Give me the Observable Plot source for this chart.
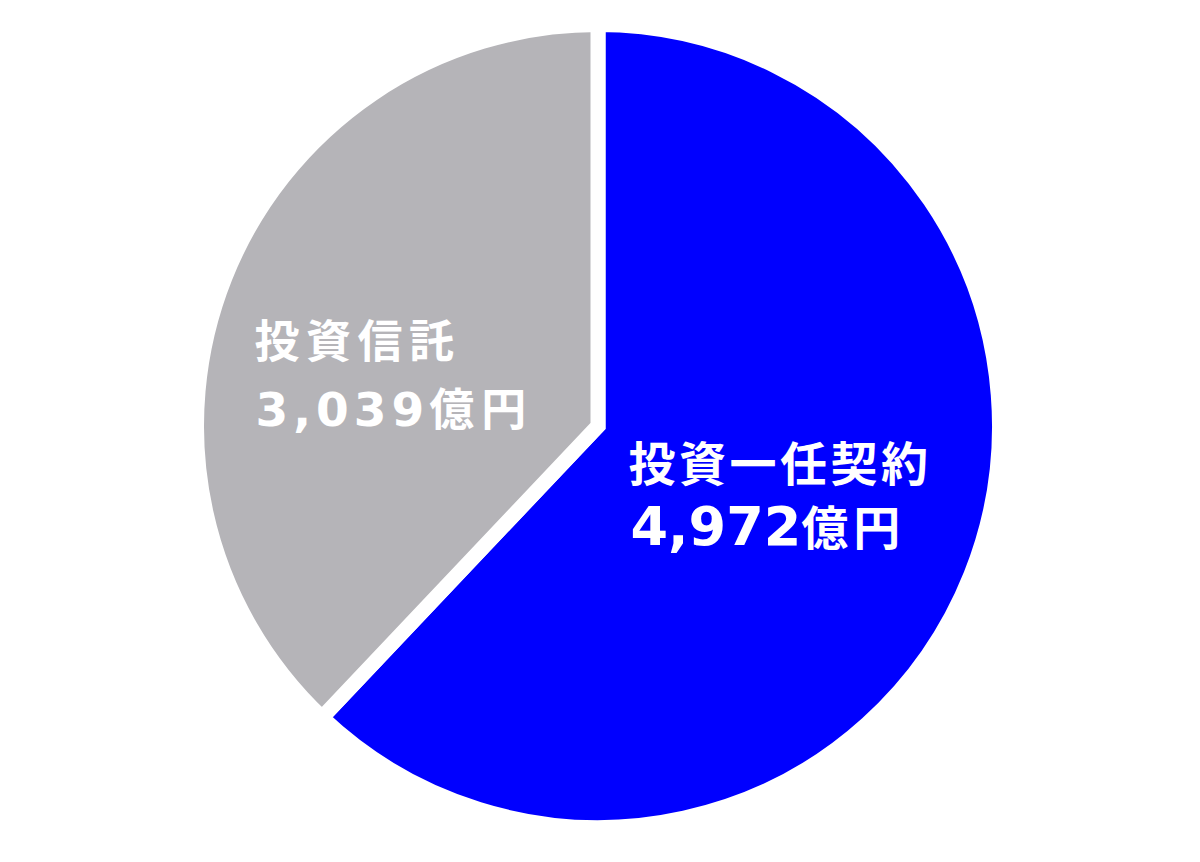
<!DOCTYPE html>
<html>
<head>
<meta charset="utf-8">
<script src="https://cdn.jsdelivr.net/npm/d3@7"></script>
<script src="https://cdn.jsdelivr.net/npm/@observablehq/plot@0.6"></script>
<style>
  html, body { margin: 0; padding: 0; background: #ffffff; }
  #chart svg { display: block; }
</style>
</head>
<body>
<div id="chart"></div>
<script>
// ---- data ----
const categories = ["投資一任契約", "投資信託"];
const values = [4972, 3039];
const valueLabels = ["4,972億円", "3,039億円"];
const colors = ["#0000ff", "#b5b4b8"];

const data = categories.map((c, i) => ({category: c, value: values[i], label: valueLabels[i], color: colors[i]}));
const arcs = d3.pie().sort(null).value(d => d.value)(data);
// label anchor at half radius along each slice's mid-angle (data units)
const slices = arcs.map(a => {
  const mid = (a.startAngle + a.endAngle) / 2;
  return {...a.data, x: 0.5 * Math.sin(mid), y: 0.5 * Math.cos(mid)};
});

const GAP = 15;

function pie(index, scales) {
  const cx = scales.x(0), cy = scales.y(0);
  const r = scales.x(1) - scales.x(0);
  const arc = d3.arc().innerRadius(0).outerRadius(r + GAP / 2);
  const g = d3.create("svg:g").attr("transform", `translate(${cx},${cy})`);
  g.selectAll("path")
    .data(arcs)
    .join("path")
    .attr("d", arc)
    .attr("fill", d => d.data.color)
    .attr("stroke", "#ffffff")
    .attr("stroke-width", GAP)
    .attr("stroke-linejoin", "miter")
    .attr("stroke-miterlimit", 10);
  return g.node();
}

// split "4,972億円" into number (Latin font) and unit (CJK font)
function splitValue(numSize, numSpacing) {
  return function(index, scales, values, dimensions, context, next) {
    const g = next(index, scales, values, dimensions, context);
    d3.select(g).selectAll("text").each(function() {
      const t = this.textContent;
      const m = t.match(/^([\d,]+)(.*)$/);
      if (!m) return;
      const sel = d3.select(this);
      sel.text(null);
      sel.append("tspan").attr("font-family", "'DejaVu Sans', Verdana, sans-serif")
        .attr("font-size", numSize).attr("letter-spacing", numSpacing).text(m[1]);
      sel.append("tspan").text(m[2]);
    });
    return g;
  };
}
function spacing(ls) {
  return (i, s, v, d, c, next) => { const g = next(i, s, v, d, c); d3.select(g).selectAll("text").attr("letter-spacing", ls); return g; };
}

const cjk = "'Noto Sans CJK JP', 'Noto Sans CJK SC', sans-serif";
const grayRow = slices.filter(d => d.category === "投資信託");
const blueRow = slices.filter(d => d.category === "投資一任契約");

const chart = Plot.plot({
  width: 1200,
  height: 862,
  marginLeft: 204,
  marginRight: 208,
  marginTop: 32,
  marginBottom: 42,
  x: {domain: [-1, 1], axis: null},
  y: {domain: [-1, 1], axis: null},
  style: {background: "#ffffff"},
  marks: [
    pie,
    // 投資信託
    Plot.text(grayRow, {x: "x", y: "y", text: "category", textAnchor: "start", lineAnchor: "bottom",
      dx: -161, dy: 4, fill: "#ffffff", fontSize: 45, fontWeight: "bold", fontFamily: cjk,
      render: spacing(6.5)}),
    Plot.text(grayRow, {x: "x", y: "y", text: "label", textAnchor: "start", lineAnchor: "bottom",
      dx: -160, dy: 72, fill: "#ffffff", fontSize: 45, fontWeight: "bold", fontFamily: cjk,
      render: (i, s, v, d, c, next) => { const g = splitValue(47, 5)(i, s, v, d, c, next); d3.select(g).selectAll("text").attr("letter-spacing", 7); return g; }}),
    // 投資一任契約
    Plot.text(blueRow, {x: "x", y: "y", text: "category", textAnchor: "start", lineAnchor: "bottom",
      dx: -153, dy: -18, fill: "#ffffff", fontSize: 47, fontWeight: "bold", fontFamily: cjk,
      render: spacing(3.5)}),
    Plot.text(blueRow, {x: "x", y: "y", text: "label", textAnchor: "start", lineAnchor: "bottom",
      dx: -151, dy: 46, fill: "#ffffff", fontSize: 47, fontWeight: "bold", fontFamily: cjk,
      render: (i, s, v, d, c, next) => { const g = splitValue(54, 0)(i, s, v, d, c, next); d3.select(g).selectAll("text").attr("letter-spacing", 5); return g; }})
  ]
});

document.getElementById("chart").appendChild(chart);
</script>
</body>
</html>
